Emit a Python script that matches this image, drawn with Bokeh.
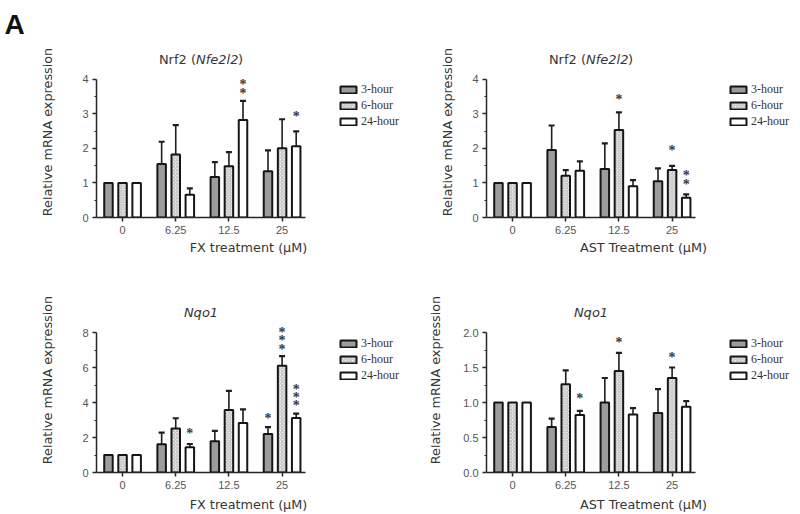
import numpy as np
from bokeh.plotting import figure
from bokeh.models import (Range1d, FixedTicker, ColumnDataSource, Whisker, TeeHead,
                          LabelSet, Label, Legend, LegendItem, PrintfTickFormatter)
from bokeh.layouts import column, row
from bokeh.embed import file_html
from bokeh.resources import INLINE

# ---------------- data ----------------
doses = ["0", "6.25", "12.5", "25"]
series = ["3-hour", "6-hour", "24-hour"]

# Nrf2, FX
fx_nrf2_3h = [1.00, 1.55, 1.17, 1.34]
fx_nrf2_6h = [1.00, 1.82, 1.48, 2.00]
fx_nrf2_24h = [1.00, 0.66, 2.82, 2.06]
fx_nrf2_3h_sem = [0.0, 0.64, 0.43, 0.60]
fx_nrf2_6h_sem = [0.0, 0.85, 0.41, 0.84]
fx_nrf2_24h_sem = [0.0, 0.18, 0.55, 0.43]
fx_nrf2_star_dose = [2, 2, 3]
fx_nrf2_star_series = [2, 2, 2]
fx_nrf2_star_y = [3.59, 3.83, 2.93]

# Nrf2, AST
ast_nrf2_3h = [1.00, 1.95, 1.40, 1.05]
ast_nrf2_6h = [1.00, 1.21, 2.53, 1.37]
ast_nrf2_24h = [1.00, 1.35, 0.90, 0.57]
ast_nrf2_3h_sem = [0.0, 0.71, 0.74, 0.37]
ast_nrf2_6h_sem = [0.0, 0.16, 0.51, 0.12]
ast_nrf2_24h_sem = [0.0, 0.27, 0.18, 0.10]
ast_nrf2_star_dose = [2, 3, 3, 3]
ast_nrf2_star_series = [1, 1, 2, 2]
ast_nrf2_star_y = [3.40, 1.95, 0.94, 1.22]

# Nqo1, FX
fx_nqo1_3h = [1.00, 1.62, 1.79, 2.20]
fx_nqo1_6h = [1.00, 2.51, 3.57, 6.10]
fx_nqo1_24h = [1.00, 1.44, 2.83, 3.12]
fx_nqo1_3h_sem = [0.0, 0.66, 0.59, 0.39]
fx_nqo1_6h_sem = [0.0, 0.59, 1.09, 0.55]
fx_nqo1_24h_sem = [0.0, 0.19, 0.78, 0.24]
fx_nqo1_star_dose = [1, 3, 3, 3, 3, 3, 3, 3]
fx_nqo1_star_series = [2, 0, 1, 1, 1, 2, 2, 2]
fx_nqo1_star_y = [2.24, 3.10, 7.05, 7.53, 8.00, 3.82, 4.28, 4.75]

# Nqo1, AST
ast_nqo1_3h = [1.00, 0.65, 1.00, 0.85]
ast_nqo1_6h = [1.00, 1.26, 1.45, 1.35]
ast_nqo1_24h = [1.00, 0.82, 0.83, 0.94]
ast_nqo1_3h_sem = [0.0, 0.12, 0.35, 0.34]
ast_nqo1_6h_sem = [0.0, 0.20, 0.26, 0.15]
ast_nqo1_24h_sem = [0.0, 0.06, 0.09, 0.08]
ast_nqo1_star_dose = [1, 2, 3]
ast_nqo1_star_series = [2, 1, 1]
ast_nqo1_star_y = [1.06, 1.86, 1.65]

y_label = "Relative mRNA expression"

# ---------------- style / geometry ----------------
OFFS = [-0.265, 0.0, 0.265]
TXT = "#363636"
AX = "#262626"
STYLES = [
    dict(fill_color="#9c9c9c", line_color="#151515", line_width=2),
    dict(fill_color="#f4f4f4", line_color="#151515", line_width=2,
         hatch_pattern="diagonal_cross", hatch_color="#b4b4b4", hatch_scale=3.5, hatch_weight=1),
    dict(fill_color="#ffffff", line_color="#151515", line_width=2),
]
W, H = 400, 257
AXIS_W = 209          # px length of the x axis
X0, X1 = -0.49, 3.44  # x-axis data extent


def panel(title_parts, xlabel, ymax, yticks, yminor, fmt, means, sems,
          star_dose, star_series, star_y, left, axis_top, frame_top, bottom_px,
          ylab_standoff, tick_standoff, xlab_standoff, legend_top, panel_letter=None):
    frame_w = W - left
    frame_h = H - frame_top - bottom_px
    axis_h = H - bottom_px - axis_top
    x_end = X0 + (X1 - X0) * frame_w / AXIS_W
    y_end = ymax * frame_h / axis_h
    p = figure(width=W, height=H, x_range=Range1d(X0, x_end), y_range=Range1d(0, y_end),
               output_backend="svg", toolbar_location=None,
               min_border_left=left, min_border_right=0,
               min_border_top=frame_top, min_border_bottom=bottom_px)
    p.outline_line_color = None
    p.xgrid.visible = False
    p.ygrid.visible = False
    p.background_fill_color = "white"
    p.border_fill_color = "white"

    renderers = []
    for s_i in range(3):
        xs = [i + OFFS[s_i] for i in range(len(doses))]
        src = ColumnDataSource(dict(x=xs, top=means[s_i]))
        r = p.vbar(x="x", top="top", bottom=0, width=0.16, source=src, **STYLES[s_i])
        renderers.append(r)
        idx = [i for i in range(len(doses)) if sems[s_i][i] > 0]
        wsrc = ColumnDataSource(dict(x=[xs[i] for i in idx],
                                     lower=[means[s_i][i] for i in idx],
                                     upper=[means[s_i][i] + sems[s_i][i] for i in idx]))
        w = Whisker(base="x", lower="lower", upper="upper", source=wsrc, dimension="height",
                    line_color="#1e1e1e", line_width=1.6,
                    upper_head=TeeHead(size=6, line_color="#1e1e1e", line_width=2.2),
                    lower_head=None)
        p.add_layout(w)

    ssrc = ColumnDataSource(dict(x=[d + OFFS[s] for d, s in zip(star_dose, star_series)],
                                 y=star_y, t=["*"] * len(star_y)))
    p.add_layout(LabelSet(x="x", y="y", text="t", source=ssrc, text_align="center",
                          text_baseline="middle", text_font="DejaVu Sans",
                          text_font_style="bold", text_font_size="14px",
                          text_color="#3a3a3a"))

    # axes
    p.xaxis.ticker = FixedTicker(ticks=list(range(len(doses))))
    p.xaxis.major_label_overrides = {i: d for i, d in enumerate(doses)}
    p.xaxis.bounds = (X0, X1)
    p.yaxis.ticker = FixedTicker(ticks=yticks, minor_ticks=yminor)
    p.yaxis.bounds = (0, ymax)
    if fmt:
        p.yaxis.formatter = PrintfTickFormatter(format=fmt)
    for ax in (p.xaxis[0], p.yaxis[0]):
        ax.axis_line_color = AX
        ax.axis_line_width = 1.5
        ax.major_tick_line_color = AX
        ax.major_tick_line_width = 1.5
        ax.major_tick_in = 0
        ax.major_tick_out = 4
        ax.minor_tick_line_color = AX
        ax.minor_tick_in = 0
        ax.minor_tick_out = 2
        ax.major_label_text_font = "Liberation Sans"
        ax.major_label_text_font_size = "11px"
        ax.major_label_text_color = "#555555"
        ax.axis_label_text_font = "DejaVu Sans"
        ax.axis_label_text_font_size = "12.8px"
        ax.axis_label_text_font_style = "normal"
        ax.axis_label_text_color = TXT
    p.xaxis.minor_tick_out = 0
    p.xaxis.major_label_standoff = tick_standoff
    p.xaxis.axis_label_standoff = xlab_standoff
    p.yaxis.major_label_standoff = 4
    p.yaxis.axis_label_standoff = ylab_standoff
    p.xaxis.axis_label = xlabel
    p.yaxis.axis_label = y_label

    # chart title (mixed roman / italic)
    mid = (X0 + X1) / 2
    for text, style, align, off in title_parts:
        p.add_layout(Label(x=mid, y=ymax, text=text, text_font="DejaVu Sans",
                           text_font_size="13px", text_font_style=style, text_color=TXT,
                           text_align=align, text_baseline="middle", x_offset=off, y_offset=20))

    legend = Legend(items=[LegendItem(label=n, renderers=[r]) for n, r in zip(series, renderers)],
                    location=(AXIS_W + 33, axis_h - legend_top - 48),
                    glyph_width=20, glyph_height=9,
                    label_standoff=3, spacing=0, padding=0, margin=0, label_height=16,
                    label_text_font="Liberation Serif", label_text_font_size="12px",
                    label_text_color="#333333", border_line_color=None,
                    background_fill_alpha=0)
    p.add_layout(legend)

    if panel_letter:
        p.title.text = panel_letter
        p.title.text_font = "Liberation Sans"
        p.title.text_font_size = "28px"
        p.title.text_font_style = "bold"
        p.title.text_color = "#111111"
        p.title.align = "left"
        p.title.offset = -92
        p.title.standoff = 13
    return p


nrf2_title = [("Nrf2 (", "normal", "right", -5), ("Nfe2l2", "italic", "left", -5),
              (")", "normal", "left", 37)]
nqo1_title = [("Nqo1", "italic", "center", 0)]

p1 = panel(nrf2_title, "FX treatment (μM)", 4, [0, 1, 2, 3, 4], [0.5, 1.5, 2.5, 3.5], None,
           [fx_nrf2_3h, fx_nrf2_6h, fx_nrf2_24h], [fx_nrf2_3h_sem, fx_nrf2_6h_sem, fx_nrf2_24h_sem],
           fx_nrf2_star_dose, fx_nrf2_star_series, fx_nrf2_star_y,
           96, 77, 44, 40, 24, 4, 3, 4, panel_letter="A")
p2 = panel(nrf2_title, "AST Treatment (μM)", 4, [0, 1, 2, 3, 4], [0.5, 1.5, 2.5, 3.5], None,
           [ast_nrf2_3h, ast_nrf2_6h, ast_nrf2_24h], [ast_nrf2_3h_sem, ast_nrf2_6h_sem, ast_nrf2_24h_sem],
           ast_nrf2_star_dose, ast_nrf2_star_series, ast_nrf2_star_y,
           86, 77, 44, 40, 14, 4, 3, 4)
p3 = panel(nqo1_title, "FX treatment (μM)", 8, [0, 2, 4, 6, 8], [1, 3, 5, 7], None,
           [fx_nqo1_3h, fx_nqo1_6h, fx_nqo1_24h], [fx_nqo1_3h_sem, fx_nqo1_6h_sem, fx_nqo1_24h_sem],
           fx_nqo1_star_dose, fx_nqo1_star_series, fx_nqo1_star_y,
           96, 75, 30, 42, 24, 4, 5, 3)
p4 = panel(nqo1_title, "AST Treatment (μM)", 2.0, [0, 0.5, 1.0, 1.5, 2.0], [0.25, 0.75, 1.25, 1.75], "%.1f",
           [ast_nqo1_3h, ast_nqo1_6h, ast_nqo1_24h], [ast_nqo1_3h_sem, ast_nqo1_6h_sem, ast_nqo1_24h_sem],
           ast_nqo1_star_dose, ast_nqo1_star_series, ast_nqo1_star_y,
           86, 75, 30, 42, 17, 4, 5, 3)

layout = column(row(p1, p2), row(p3, p4))
open("out.html", "w").write(file_html(layout, INLINE))
